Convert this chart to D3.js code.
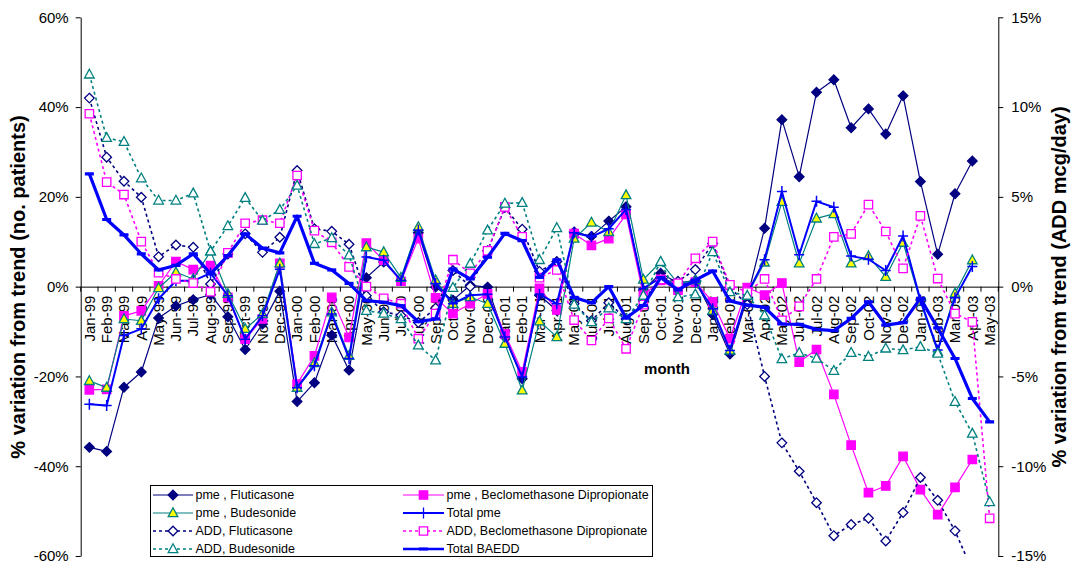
<!DOCTYPE html>
<html><head><meta charset="utf-8">
<script src="https://cdn.jsdelivr.net/npm/d3@7"></script>
<style>body{margin:0;background:#fff} svg text{font-family:"Liberation Sans",Arial,sans-serif}</style>
</head><body><svg id="c" width="1071" height="563"></svg>
<script>
const months = ["Jan-99","Feb-99","Mar-99","Apr-99","May-99","Jun-99","Jul-99","Aug-99","Sep-99","Oct-99","Nov-99","Dec-99",
"Jan-00","Feb-00","Mar-00","Apr-00","May-00","Jun-00","Jul-00","Aug-00","Sep-00","Oct-00","Nov-00","Dec-00",
"Jan-01","Feb-01","Mar-01","Apr-01","May-01","Jun-01","Jul-01","Aug-01","Sep-01","Oct-01","Nov-01","Dec-01",
"Jan-02","Feb-02","Mar-02","Apr-02","May-02","Jun-02","Jul-02","Aug-02","Sep-02","Oct-02","Nov-02","Dec-02",
"Jan-03","Feb-03","Mar-03","Apr-03","May-03"];
const leftTicks = [-60,-40,-20,0,20,40,60];
const rightTicks = [-15,-10,-5,0,5,10,15];

// primary axis: % variation from trend (no. patients)
const pmeFluticasone = [-35.8,-36.7,-22.4,-19.0,-7.0,-4.3,-2.9,-1.8,-6.7,-14.0,-8.3,-1.0,
-25.6,-21.4,-10.8,-18.6,2.0,5.5,1.4,12.0,-0.1,-3.0,0.3,-0.1,
-11.2,-20.5,-1.9,-5.3,12.2,11.2,14.6,17.8,-0.8,3.0,0.8,1.4,
-6.2,-15.0,-2.5,13.0,37.2,24.5,43.3,46.1,35.4,39.6,34.0,42.5,
23.4,7.2,20.7,28.0,null];
const pmeBeclomethasone = [-23.0,-22.9,-6.5,-5.4,0.2,5.6,3.8,4.7,-2.4,-11.7,-7.2,5.2,
-21.7,-15.4,-2.4,-11.3,9.7,5.9,1.2,10.7,-2.5,-6.0,-3.8,-1.6,
-10.5,-19.0,-0.4,-5.2,11.8,9.2,10.7,16.1,-1.9,1.4,-0.8,1.0,
-3.4,-11.6,-0.2,-1.9,0.8,-16.8,-14.0,-24.0,-35.3,-45.9,-44.4,-37.8,
-45.2,-50.8,-44.7,-38.5,null];
const pmeBudesonide = [-21.0,-22.5,-7.2,-7.6,-0.3,3.2,1.7,7.9,-1.6,-9.4,-6.1,5.2,
-22.5,-17.0,-5.7,-15.4,8.8,7.7,2.0,13.3,1.4,-3.8,-2.3,-3.8,
-12.7,-23.1,-7.7,-11.2,10.7,14.3,12.2,20.4,1.6,5.5,0.7,1.4,
-5.3,-14.2,-1.9,5.4,18.9,5.2,15.2,16.2,5.2,6.8,2.2,9.8,
-3.3,-14.5,-1.5,5.9,null];
const totalPme = [-26.2,-26.5,-10.9,-9.4,-2.7,1.3,1.3,3.0,-2.0,-11.7,-6.5,3.9,
-22.5,-17.6,-6.1,-16.0,6.6,5.9,1.4,12.6,0.7,-3.8,-1.9,-1.7,
-11.2,-20.1,-1.7,-3.8,12.0,11.1,12.9,17.2,-0.4,2.0,0.3,1.0,
-4.9,-14.2,-1.6,6.0,21.2,7.1,19.0,17.7,6.8,6.1,3.6,11.3,
-3.0,-14.1,-2.5,4.5,null];

// secondary axis: % variation from trend (ADD mcg/day)
const addFluticasone = [10.5,7.21,5.87,4.98,1.67,2.32,2.19,0.15,1.82,2.94,1.91,2.75,
6.47,3.22,3.08,2.36,-0.5,-1.4,-1.6,-2.0,-1.2,0.9,0.0,2.0,
4.4,3.2,0.85,1.4,-0.95,-1.9,-0.9,-1.8,-0.8,0.5,0.3,0.95,
2.4,-0.06,-1.0,-5.0,-8.7,-10.28,-12.03,-13.87,-13.25,-12.9,-14.16,-12.58,
-10.63,-11.9,-13.6,-15.8,-17.5];
const addBeclomethasone = [9.63,5.82,5.13,2.51,0.78,0.43,0.2,-0.28,1.88,3.53,3.7,3.53,
6.19,3.12,2.47,1.1,0.0,-0.65,-0.95,-2.9,-1.5,1.5,0.74,2.0,
4.44,2.77,0.5,0.93,-1.86,-3.0,-1.77,-3.46,-1.0,0.4,0.19,1.58,
2.51,0.1,-0.3,0.43,-1.87,-1.1,0.43,2.77,2.94,4.57,3.07,1.02,
3.94,0.45,-1.5,-1.96,-12.9];
const addBudesonide = [11.82,8.29,8.07,6.04,4.8,4.8,5.2,1.97,3.38,4.95,3.68,4.28,
5.63,2.38,2.71,1.75,-1.34,-1.5,-1.8,-3.27,-4.1,-0.06,1.28,3.14,
4.63,4.67,1.49,3.27,-1.0,-1.97,-1.2,-1.8,-0.5,1.39,-0.58,-0.43,
1.93,-0.3,-0.5,-1.6,-4.03,-3.68,-4.0,-4.68,-3.68,-3.9,-3.44,-3.53,
-3.35,-3.72,-6.41,-8.18,-11.99];
const totalBAEDD = [6.28,3.74,2.88,1.82,0.93,1.19,1.82,0.71,1.73,2.94,2.14,1.88,
3.92,1.30,0.93,0.18,-0.78,-0.87,-1.06,-1.95,-1.8,0.98,0.43,1.64,
2.97,2.56,0.52,1.49,-0.6,-0.9,0.0,-1.75,-1.05,0.5,-0.18,0.36,
0.87,-0.8,-1.03,-1.15,-2.08,-2.1,-2.38,-2.45,-1.77,-0.84,-2.14,-2.0,
-0.65,-2.3,-4.0,-6.23,-7.53];

const seriesNames = ["pme , Fluticasone","pme , Beclomethasone Dipropionate","pme , Budesonide","Total pme",
"ADD, Fluticasone","ADD, Beclomethasone Dipropionate","ADD, Budesonide","Total BAEDD"];

const NAVY="#000080", MAG="#FF00FF", TEAL="#008080", BLUE="#0000FF", YEL="#FFFF00";
const series = [
 {name:seriesNames[0], vals:pmeFluticasone, axis:"L", color:NAVY, w:1.2, dash:null, mk:"diamond", fill:NAVY},
 {name:seriesNames[1], vals:pmeBeclomethasone, axis:"L", color:MAG, w:1.2, dash:null, mk:"square", fill:MAG},
 {name:seriesNames[2], vals:pmeBudesonide, axis:"L", color:TEAL, w:1.2, dash:null, mk:"triangle", fill:YEL},
 {name:seriesNames[3], vals:totalPme, axis:"L", color:BLUE, w:2, dash:null, mk:"plus", fill:"none"},
 {name:seriesNames[4], vals:addFluticasone, axis:"R", color:NAVY, w:1.6, dash:"3,3", mk:"diamond", fill:"#fff"},
 {name:seriesNames[5], vals:addBeclomethasone, axis:"R", color:MAG, w:1.6, dash:"3,3", mk:"square", fill:"#fff"},
 {name:seriesNames[6], vals:addBudesonide, axis:"R", color:TEAL, w:1.6, dash:"3,3", mk:"triangle", fill:"#fff"},
 {name:seriesNames[7], vals:totalBAEDD, axis:"R", color:BLUE, w:3.2, dash:null, mk:"dash", fill:"none"}
];

const m = {l:80.7, r:998.3, t:17.3, b:556};
const svg = d3.select("#c");
const x = d3.scaleBand().domain(months).range([m.l, m.r]).padding(0);
const yL = d3.scaleLinear().domain([-60,60]).range([m.b, m.t]);
const yR = d3.scaleLinear().domain([-15,15]).range([m.b, m.t]);
const cx = d => x(d) + x.bandwidth()/2;
const FONT = '"Liberation Sans",Arial,sans-serif';

function styleAxis(g){
  g.attr("font-family", FONT).attr("font-size", 15);
  g.selectAll("path,line").attr("stroke","#000").attr("stroke-width",1);
  g.selectAll("text").attr("fill","#000");
}

// left axis
svg.append("g").attr("transform",`translate(${m.l},0)`)
  .call(d3.axisLeft(yL).tickValues(leftTicks).tickFormat(d=>d+"%").tickSize(5).tickSizeOuter(0).tickPadding(7))
  .call(styleAxis);
// right axis
svg.append("g").attr("transform",`translate(${m.r},0)`)
  .call(d3.axisRight(yR).tickValues(rightTicks).tickFormat(d=>d+"%").tickSize(5).tickSizeOuter(0).tickPadding(8))
  .call(styleAxis);

// category axis at 0
const xg = svg.append("g").attr("transform",`translate(0,${yL(0)})`)
  .call(d3.axisBottom(x).tickSize(0).tickSizeOuter(0).tickPadding(0))
  .call(styleAxis);
xg.selectAll(".tick text").attr("transform","rotate(-90)").attr("text-anchor","end")
  .attr("x",-9).attr("y",0).attr("dy","0.35em");
const bounds = months.map(d=>x(d)).concat([x.range()[1]]);
xg.selectAll(".bt").data(bounds).join("line").attr("class","bt")
  .attr("x1",d=>d).attr("x2",d=>d).attr("y1",0).attr("y2",5).attr("stroke","#000");

// titles
svg.append("text").attr("transform","translate(18,287) rotate(-90)").attr("text-anchor","middle")
  .attr("font-size",20).attr("font-weight","bold").attr("dy","0.35em").text("% variation from trend (no. patients)");
svg.append("text").attr("transform","translate(1059,287) rotate(-90)").attr("text-anchor","middle")
  .attr("font-size",20).attr("font-weight","bold").attr("dy","0.35em").text("% variation from trend (ADD mcg/day)");
svg.append("text").attr("x",667).attr("y",369).attr("text-anchor","middle")
  .attr("font-size",15).attr("font-weight","bold").attr("dy","0.35em").text("month");

// markers
function markerPath(t){
  switch(t){
    case "diamond": return "M0,-4.8L4.8,0L0,4.8L-4.8,0Z";
    case "square": return "M-4.2,-4.2H4.2V4.2H-4.2Z";
    case "triangle": return "M0,-5.2L4.8,3.6H-4.8Z";
    case "plus": return "M-5,0H5M0,-5.5V5.5";
    case "dash": return "M-4.5,0H4.5";
  }
}

svg.append("clipPath").attr("id","clip").append("rect")
  .attr("x",m.l).attr("y",m.t).attr("width",m.r-m.l).attr("height",m.b-m.t);
const plot = svg.append("g").attr("clip-path","url(#clip)");

series.forEach(s=>{
  const y = s.axis==="L" ? yL : yR;
  const pts = months.map((mo,i)=>({mo, v:s.vals[i]}));
  const line = d3.line().defined(d=>d.v!=null).x(d=>cx(d.mo)).y(d=>y(d.v));
  const g = plot.append("g");
  g.append("path").datum(pts).attr("d",line).attr("fill","none").attr("stroke",s.color)
    .attr("stroke-width",s.w).attr("stroke-dasharray",s.dash).attr("stroke-linejoin","round");
  g.selectAll("path.mk").data(pts.filter(d=>d.v!=null)).join("path").attr("class","mk")
    .attr("transform",d=>`translate(${cx(d.mo)},${y(d.v)})`)
    .attr("d",markerPath(s.mk))
    .attr("fill",s.fill)
    .attr("stroke",s.color)
    .attr("stroke-width", s.mk==="dash"?3.2:(s.mk==="plus"?1.5:1.3));
});

// legend
const lg = svg.append("g").attr("font-family",FONT).attr("font-size",12.5);
lg.append("rect").attr("x",150.5).attr("y",485.5).attr("width",502).attr("height",71)
  .attr("fill","#fff").attr("stroke","#000").attr("stroke-width",1);
series.forEach((s,k)=>{
  const col = k%2, row = Math.floor(k/2);
  const x0 = col===0 ? 153 : 403, x1 = col===0 ? 193 : 444;
  const yy = 495 + row*18;
  lg.append("line").attr("x1",x0).attr("x2",x1).attr("y1",yy).attr("y2",yy)
    .attr("stroke",s.color).attr("stroke-width",Math.min(s.w,2.5)).attr("stroke-dasharray",s.dash);
  lg.append("path").attr("transform",`translate(${(x0+x1)/2},${yy})`).attr("d",markerPath(s.mk))
    .attr("fill",s.fill).attr("stroke",s.color).attr("stroke-width",s.mk==="dash"?3:1.3);
  lg.append("text").attr("x",x1+2.5).attr("y",yy).attr("dy","0.35em").text(s.name);
});
</script></body></html>
